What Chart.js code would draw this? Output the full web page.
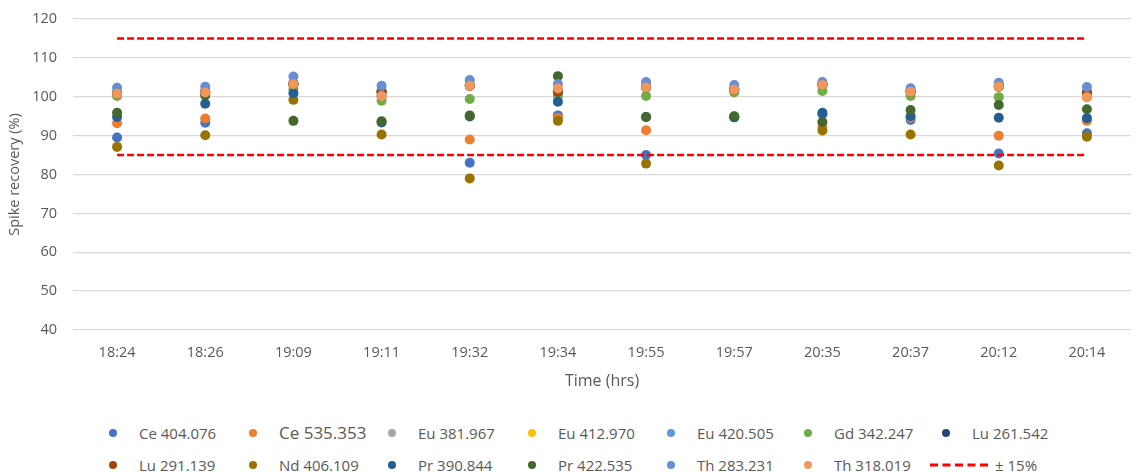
<!DOCTYPE html>
<html>
<head>
<meta charset="utf-8">
<script src="https://cdn.jsdelivr.net/npm/chart.js@4.4.0/dist/chart.umd.min.js"></script>
<style>
  html, body { margin: 0; padding: 0; background: #fff; }
  #wrap { position: relative; width: 1136px; height: 472px; font-family: 'Open Sans', sans-serif; color: #595959; overflow: hidden; }
  #chartBox { position: absolute; left: 0; top: 0; width: 1136px; height: 400px; }
  .lg-dot { position: absolute; width: 8px; height: 8px; border-radius: 50%; }
  .lg-txt { position: absolute; font-size: 15px; line-height: 20px; white-space: nowrap; }
  .lg-dash { position: absolute; }
</style>
</head>
<body>
<div id="wrap">
  <div id="chartBox"><canvas id="spikeChart"></canvas></div>
  <div id="legend"></div>
</div>
<script>
// ---------- 데이터 ----------
const times = ['18:24', '18:26', '19:09', '19:11', '19:32', '19:34',
               '19:55', '19:57', '20:35', '20:37', '20:12', '20:14'];

const seriesNames = ['Ce 404.076', 'Ce 535.353', 'Eu 381.967', 'Eu 412.970', 'Eu 420.505',
                     'Gd 342.247', 'Lu 261.542', 'Lu 291.139', 'Nd 406.109', 'Pr 390.844',
                     'Pr 422.535', 'Th 283.231', 'Th 318.019'];

// 겹쳐서 안 보이는 점(Eu, Lu 등)은 덮고 있는 점 근처 값으로 추정.
const ce404 = [89.5, 93.3, 103.2, 100.2, 83.0, 95.2, 85.0, 94.9, 95.5, 94.0, 85.4, 90.6];
const ce535 = [93.2, 94.4, 103.2, 100.2, 89.0, 94.6, 91.4, 101.8, 92.3, 94.6, 90.0, 93.8];
const eu381 = [101.0, 101.3, 103.4, 101.2, 103.0, 101.4, 102.6, 102.0, 103.2, 101.5, 102.8, 101.0];
const eu412 = [100.9, 101.2, 103.3, 101.3, 102.9, 101.3, 102.5, 101.9, 103.1, 101.4, 102.7, 101.1];
const eu420 = [101.1, 101.4, 103.5, 101.2, 103.1, 101.5, 102.7, 102.1, 103.3, 101.6, 102.9, 101.0];
const gd342 = [100.2, 100.5, 101.9, 99.0, 99.4, 100.2, 100.2, 101.1, 101.5, 100.2, 99.9, 99.9];
const lu261 = [100.9, 101.2, 103.2, 101.3, 102.8, 101.3, 102.4, 101.8, 103.0, 101.3, 102.6, 101.1];
const lu291 = [100.8, 101.1, 103.2, 101.3, 102.8, 101.3, 102.4, 101.8, 103.0, 101.3, 102.6, 101.1];
const nd406 = [87.1, 90.1, 99.2, 90.3, 79.0, 93.8, 82.8, 94.8, 91.3, 90.3, 82.3, 89.7];
const pr390 = [94.8, 98.2, 100.9, 93.4, 94.9, 98.7, 94.8, 94.7, 95.9, 95.0, 94.6, 94.5];
const pr422 = [95.9, 100.3, 93.8, 93.7, 95.2, 105.3, 94.8, 95.0, 93.5, 96.6, 97.9, 96.8];
const th283 = [102.3, 102.6, 105.2, 102.8, 104.3, 103.3, 103.8, 103.0, 103.8, 102.2, 103.6, 102.5];
const th318 = [100.8, 101.1, 103.2, 100.2, 102.8, 102.1, 102.4, 101.8, 103.0, 101.3, 102.6, 99.9];

const seriesValues = [ce404, ce535, eu381, eu412, eu420, gd342, lu261,
                      lu291, nd406, pr390, pr422, th283, th318];

// ±15% 허용 한계선
const limitUpper = [115, 115, 115, 115, 115, 115, 115, 115, 115, 115, 115, 115];
const limitLower = [85, 85, 85, 85, 85, 85, 85, 85, 85, 85, 85, 85];
const limitLabel = '± 15%';

// ---------- 스타일 ----------
const COLORS = ['#4472C4', '#ED7D31', '#A5A5A5', '#FFC000', '#5B9BD5', '#70AD47', '#264478',
                '#9E480E', '#997300', '#255E91', '#43682B', '#698ED0', '#F1975A'];
const LIMIT_COLOR = '#FF0000';
const TEXT_COLOR = '#595959';
const GRID_COLOR = '#D9D9D9';
const FONT = "'Open Sans', sans-serif";

// Excel처럼 나중 계열이 위에 그려지도록 order를 역순으로 준다.
const datasets = seriesNames.map((name, i) => ({
  type: 'line',
  label: name,
  data: seriesValues[i],
  showLine: false,
  pointRadius: 5,
  pointHoverRadius: 5,
  pointBorderWidth: 0,
  pointBackgroundColor: COLORS[i],
  borderColor: COLORS[i],
  backgroundColor: COLORS[i],
  order: 100 - i,
}));

const limitStyle = {
  type: 'line',
  borderColor: LIMIT_COLOR,
  borderWidth: 2.5,
  borderDash: [7, 3],
  pointRadius: 0,
  fill: false,
  order: 0,
};
datasets.push({ ...limitStyle, label: limitLabel, data: limitUpper });
datasets.push({ ...limitStyle, label: '', data: limitLower, hideInLegend: true });

const chart = new Chart(document.getElementById('spikeChart'), {
  type: 'line',
  data: { labels: times, datasets },
  options: {
    animation: false,
    responsive: true,
    maintainAspectRatio: false,
    layout: { padding: { top: 19, right: 2, left: 0, bottom: 0 } },
    plugins: {
      legend: { display: false },
      tooltip: { enabled: false },
    },
    scales: {
      x: {
        offset: true,
        grid: { display: false, drawTicks: false },
        border: { display: false },
        ticks: { color: TEXT_COLOR, font: { family: FONT, size: 14.5 }, padding: 14, maxRotation: 0 },
        title: {
          display: true, text: 'Time (hrs)', color: TEXT_COLOR,
          font: { family: FONT, size: 16 }, padding: { top: 4, bottom: 9 },
        },
        afterFit: (s) => { s.height = 70; },
      },
      y: {
        min: 40,
        max: 120,
        grid: { color: GRID_COLOR, lineWidth: 1.3, drawTicks: false },
        border: { display: false },
        ticks: { stepSize: 10, color: TEXT_COLOR, font: { family: FONT, size: 14.5 }, padding: 16 },
        title: {
          display: true, text: 'Spike recovery (%)', color: TEXT_COLOR,
          font: { family: FONT, size: 14.5 }, padding: { top: 6, bottom: 0 },
        },
        // tick padding이 위/아래 여백에도 더해지므로 여기서 정리
        afterFit: (s) => { s.width = 73; s.paddingTop = 9; s.paddingBottom = 9; },
      },
    },
  },
});

// ---------- HTML 범례 (Excel식 고정 폭 칸) ----------
const LEGEND_COL_X = [113, 253, 392, 532, 671, 808, 946];
const LEGEND_ROW_Y = [433, 465];
const legendEl = document.getElementById('legend');
const legendItems = chart.data.datasets.filter(d => !d.hideInLegend);

legendItems.forEach((ds, i) => {
  const cx = LEGEND_COL_X[i % 7];
  const cy = LEGEND_ROW_Y[Math.floor(i / 7)];
  const isLimit = ds.label === limitLabel;
  let textX = cx + 26;

  if (isLimit) {
    // 선 계열 범례는 짧은 점선
    const x0 = 930;
    const w = 62;
    const svg = document.createElementNS('http://www.w3.org/2000/svg', 'svg');
    svg.setAttribute('class', 'lg-dash');
    svg.setAttribute('width', String(w));
    svg.setAttribute('height', '6');
    svg.style.left = x0 + 'px';
    svg.style.top = (cy - 3) + 'px';
    svg.innerHTML = `<line x1="0" y1="3" x2="${w}" y2="3" stroke="${LIMIT_COLOR}" stroke-width="2.8" stroke-dasharray="8,4.5"/>`;
    legendEl.appendChild(svg);
    textX = x0 + w + 3;
  } else {
    const dot = document.createElement('div');
    dot.className = 'lg-dot';
    dot.style.background = ds.pointBackgroundColor;
    dot.style.left = (cx - 4) + 'px';
    dot.style.top = (cy - 4) + 'px';
    legendEl.appendChild(dot);
  }

  const txt = document.createElement('div');
  txt.className = 'lg-txt';
  txt.textContent = ds.label;
  // 원본 그림에서 Ce 535.353만 글자가 조금 크다.
  if (ds.label === 'Ce 535.353') txt.style.fontSize = '17px';
  txt.style.left = textX + 'px';
  txt.style.top = (cy - 10) + 'px';
  legendEl.appendChild(txt);
});
</script>
</body>
</html>
